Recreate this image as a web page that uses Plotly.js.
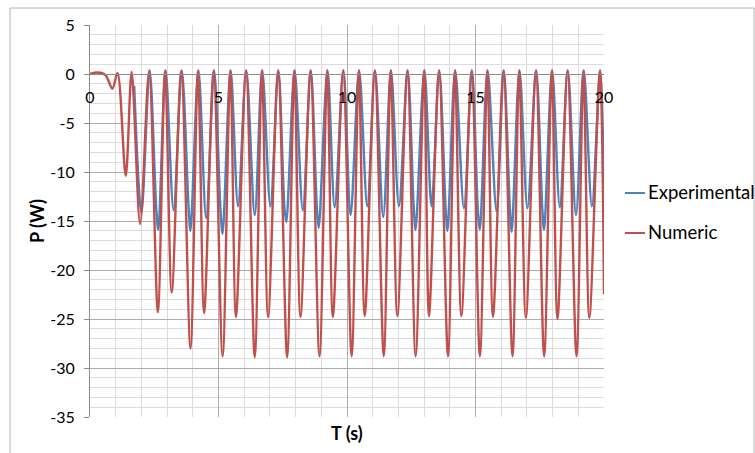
<!DOCTYPE html>
<html>
<head>
<meta charset="utf-8">
<script src="https://cdn.plot.ly/plotly-3.0.1.min.js"></script>
<style>
html,body{margin:0;padding:0;background:#fff;}
#chart{width:755px;height:453px;}
</style>
</head>
<body>
<div id="chart"></div>
<script>
// ---- data ----
var numT = [0, 0.30, 0.60, 0.87, 1.07, 1.39, 1.62, 1.95, 2.30, 2.64, 2.92, 3.18, 3.55, 3.91, 4.20, 4.44, 4.81,
  5.16, 5.46, 5.68, 6.07, 6.41, 6.69, 6.93, 7.32, 7.67, 7.95, 8.19, 8.58, 8.93, 9.23, 9.45, 9.85,
  10.18, 10.46, 10.69, 11.08, 11.43, 11.70, 11.96, 12.35, 12.67, 13.00, 13.19, 13.58, 13.93, 14.20, 14.45, 14.85,
  15.17, 15.46, 15.68, 16.09, 16.44, 16.70, 16.96, 17.35, 17.67, 17.97, 18.19, 18.58, 18.93, 19.20, 19.43, 19.84, 20.0];
var numP = [0, 0.15, -0.1, -1.5, 0.1, -10.4, 0.2, -15.3, 0.3, -24.3, 0.3, -22.3, 0.3, -28.0, 0.3, -24.4, 0.3,
  -28.8, 0.3, -24.8, 0.3, -28.9, 0.3, -24.8, 0.3, -28.9, 0.3, -24.8, 0.3, -28.8, 0.3, -24.8, 0.3,
  -28.8, 0.3, -24.7, 0.3, -28.8, 0.3, -24.7, 0.3, -28.8, 0.3, -24.7, 0.3, -28.8, 0.3, -24.7, 0.3,
  -28.8, 0.3, -24.8, 0.3, -28.8, 0.3, -24.9, 0.3, -28.8, 0.3, -25.0, 0.3, -28.8, 0.3, -24.9, 0.3, -22.5];

var expT = [1.72, 2.00, 2.32, 2.58, 2.66, 2.94, 3.25, 3.57, 3.84, 3.91, 4.22, 4.52, 4.83, 5.08, 5.16,
  5.47, 5.76, 6.08, 6.41, 6.70, 7.02, 7.33, 7.57, 7.64, 7.96, 8.28, 8.59, 8.83, 8.90, 9.24, 9.52, 9.86,
  10.14, 10.47, 10.79, 11.09, 11.41, 11.71, 12.02, 12.36, 12.60, 12.67, 13.01, 13.29, 13.59, 13.84, 13.91,
  14.21, 14.55, 14.86, 15.10, 15.17, 15.47, 15.82, 16.10, 16.34, 16.41, 16.71, 17.02, 17.36, 17.60, 17.67,
  17.98, 18.28, 18.59, 18.91, 19.21, 19.53, 19.85, 20.0];
var expP = [-1.2, -14.2, 0.4, -13.8, -15.9, 0.4, -13.9, 0.4, -13.8, -16.0, 0.4, -14.7, 0.4, -14.0, -16.3,
  0.4, -13.5, 0.4, -14.4, 0.4, -13.5, 0.4, -13.8, -15.1, 0.4, -13.9, 0.4, -13.8, -15.7, 0.4, -13.6, 0.4,
  -14.4, 0.4, -13.5, 0.4, -14.6, 0.4, -13.5, 0.4, -13.8, -15.9, 0.4, -13.5, 0.4, -13.8, -16.0,
  0.4, -13.7, 0.4, -14.3, -15.9, 0.4, -14.0, 0.4, -13.8, -16.1, 0.4, -13.7, 0.4, -13.8, -15.9,
  0.4, -13.6, 0.4, -14.4, 0.4, -13.5, 0.4, -12.5];

var seriesNames = ['Experimental', 'Numeric'];
var seriesColors = ['#4f81bd', '#c0504d'];
var xTickVals = [0, 5, 10, 15, 20];
var xTickText = ['0', '5', '10', '15', '20'];
var yTickVals = [5, 0, -5, -10, -15, -20, -25, -30, -35];
var yTickText = ['5', '0', '-5', '-10', '-15', '-20', '-25', '-30', '-35'];
var xTitle = 'T (s)';
var yTitle = 'P (W)';

var FONT = 'Lato, Carlito, Calibri, "Open Sans", sans-serif';

var traces = [
  {x: expT, y: expP, name: seriesNames[0], type: 'scatter', mode: 'lines', showlegend: false,
   line: {color: seriesColors[0], width: 2.4, shape: 'spline', smoothing: 0.9}},
  {x: numT, y: numP, name: seriesNames[1], type: 'scatter', mode: 'lines', showlegend: false,
   line: {color: seriesColors[1], width: 2.4, shape: 'spline', smoothing: 0.9}}
];

// plot area: x 90..604 px, y 25..417 px
function px(xp) { return (xp - 90) / 514; }
function py(yp) { return (417 - yp) / 392; }

// legend drawn as line samples + real text labels
var legendRows = [192, 232];
var annotations = [
  {text: '<b>' + xTitle + '</b>', xref: 'paper', yref: 'paper', x: 0.5, y: py(433), xanchor: 'center', yanchor: 'middle',
   showarrow: false, font: {family: FONT, size: 18, color: '#000'}}
];
var shapes = [
  {type: 'rect', xref: 'paper', yref: 'paper', x0: px(10), x1: px(754), y0: py(470), y1: py(8),
   line: {color: '#b4b4b4', width: 1}, fillcolor: 'rgba(0,0,0,0)', layer: 'below'}
];
for (var i = 0; i < seriesNames.length; i++) {
  annotations.push({text: seriesNames[i], xref: 'paper', yref: 'paper', x: px(646), y: py(legendRows[i]),
    xanchor: 'left', yanchor: 'middle', showarrow: false, font: {family: FONT, size: 18.5, color: '#000'}});
  shapes.push({type: 'line', xref: 'paper', yref: 'paper', x0: px(625), x1: px(645),
    y0: py(legendRows[i] + 1), y1: py(legendRows[i] + 1), line: {color: seriesColors[i], width: 2}});
}

var layout = {
  width: 755, height: 453,
  margin: {l: 90, r: 151, t: 25, b: 36, pad: 0},
  paper_bgcolor: '#ffffff', plot_bgcolor: '#ffffff',
  font: {family: FONT, size: 16, color: '#000000'},
  showlegend: false,
  xaxis: {
    range: [0, 20], tickmode: 'array', tickvals: xTickVals, ticktext: xTickText,
    showgrid: true, gridcolor: '#adadad', gridwidth: 1,
    minor: {tickmode: 'linear', tick0: 0, dtick: 1, showgrid: true, gridcolor: '#dcdcdc', gridwidth: 1, ticks: ''},
    zeroline: false, anchor: 'free', position: 0.875,
    showline: true, linecolor: '#8c8c8c', linewidth: 1,
    ticks: '', ticklabelstandoff: 9,
    tickfont: {family: FONT, size: 16, color: '#000'}
  },
  yaxis: {
    range: [-35, 5], tickmode: 'array', tickvals: yTickVals, ticktext: yTickText,
    showgrid: true, gridcolor: '#adadad', gridwidth: 1,
    minor: {tickmode: 'linear', tick0: 0, dtick: 1, showgrid: true, gridcolor: '#dcdcdc', gridwidth: 1, ticks: ''},
    zeroline: false, showline: true, linecolor: '#8c8c8c', linewidth: 1,
    ticks: 'outside', ticklen: 5, tickcolor: '#8c8c8c', ticklabelstandoff: 6,
    tickfont: {family: FONT, size: 16, color: '#000'},
    title: {text: '<b>' + yTitle + '</b>', font: {family: FONT, size: 18, color: '#000'}, standoff: 0}
  },
  annotations: annotations,
  shapes: shapes
};

Plotly.newPlot('chart', traces, layout, {displayModeBar: false, staticPlot: true});
</script>
</body>
</html>
